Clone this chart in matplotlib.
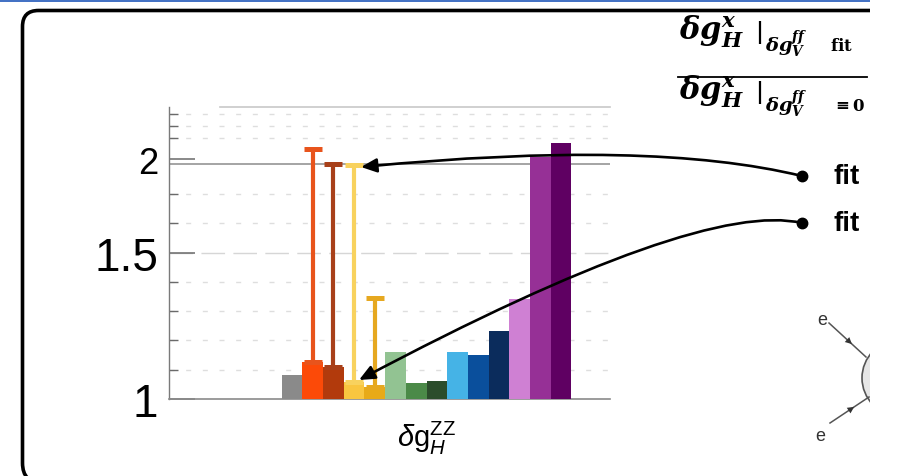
import numpy as np
import matplotlib
matplotlib.use("Agg")
import matplotlib.pyplot as plt
from matplotlib.patches import FancyArrowPatch, Circle, Rectangle, PathPatch
from matplotlib.path import Path
from matplotlib.ticker import FixedLocator

plt.rcParams['font.family'] = ['Liberation Sans', 'DejaVu Sans']
plt.rcParams['mathtext.fontset'] = 'custom'
plt.rcParams['mathtext.rm'] = 'Liberation Sans'
plt.rcParams['mathtext.it'] = 'Liberation Sans:italic'
plt.rcParams['mathtext.bf'] = 'Liberation Sans:bold'

# ---------------- data ----------------
category = r'$\delta\mathrm{g}_{H}^{\mathrm{ZZ}}$'
series = [f'fit {i+1}' for i in range(14)]
values = [1.083, 1.125, 1.108, 1.059, 1.040, 1.159, 1.054, 1.060,
          1.159, 1.150, 1.233, 1.341, 2.016, 2.152]
colors = ['#8a8a8a', '#fc4a08', '#b23a0c', '#f9c640', '#e8aa18', '#92c392',
          '#4b8a48', '#2b4d2b', '#45b3e6', '#0a4f9c', '#0b2c5c', '#cf80d3',
          '#963096', '#5f0062']
err_index = [1, 2, 3, 4]
err_upper = [0.972, 0.853, 0.890, 0.304]
err_colors = ['#e8541c', '#a8401a', '#f8d25e', '#e6a820']
ytick_vals = [1, 1.5, 2]
ytick_labels = ['1', '1.5', '2']
minor_vals = [1.1, 1.2, 1.3, 1.4, 1.6, 1.7, 2.2, 2.4, 2.6]
ref_line = 1.96

# nonlinear axis scale of the original plot (value -> relative height)
scale_vals = [0.0, 1.0, 1.7, 2.0, 2.2, 2.4, 2.6, 2.7, 4.0]
scale_pos = [-293.0, 0.0, 205.0, 240.0, 260.7, 273.3, 285.0, 292.5, 400.0]

def fwd(v):
    return np.interp(v, scale_vals, scale_pos)

def inv(h):
    return np.interp(h, scale_pos, scale_vals)

W, H = 902, 477
fig = plt.figure(figsize=(W / 100, H / 100), dpi=100)
fig.patch.set_facecolor('white')

ax = fig.add_axes([169 / W, 77 / H, 441 / W, 292.5 / H])
ax.set_yscale('function', functions=(fwd, inv))
ax.set_ylim(1.0, 2.7)
ax.set_xlim(-5.944, 15.36)

x = np.arange(len(values))
vals = np.array(values)
ax.bar(x, vals - 1.0, bottom=1.0, width=1.0, color=colors, edgecolor='none', zorder=3)
for i, e, c in zip(err_index, err_upper, err_colors):
    ax.errorbar(x[i], vals[i], yerr=[[0], [e]], fmt='none', ecolor=c,
                elinewidth=3.0, capsize=6.2, capthick=3.6, zorder=4)

# grid
for v in minor_vals:
    ax.axhline(v, color='#dedede', lw=1.0, ls=(0, (3.6, 8.4)), zorder=1)
ax.axhline(1.5, color='#d6d6d6', lw=1.0, ls=(0, (17, 6)), zorder=1)
ax.axhline(ref_line, color='#8c8c8c', lw=1.1, zorder=2)
ax.plot([(220 - 169) / 441, 1], [1, 1], transform=ax.transAxes, color='#c8c8c8',
        lw=1.2, clip_on=False)

for s in ['top', 'right']:
    ax.spines[s].set_visible(False)
ax.spines['left'].set_color('#7a7a7a')
ax.spines['bottom'].set_color('#8a8a8a')
ax.spines['left'].set_linewidth(1.0)
ax.spines['bottom'].set_linewidth(1.2)

ax.yaxis.set_major_locator(FixedLocator(ytick_vals))
ax.set_yticklabels(ytick_labels)
ax.yaxis.set_minor_locator(FixedLocator(minor_vals))
ax.tick_params(axis='y', which='major', direction='in', length=19, width=1.1,
               color='#6a6a6a', pad=8)
ax.tick_params(axis='y', which='minor', direction='in', length=6.5, width=1.0,
               color='#6a6a6a')
for lbl, fs in zip(ax.get_yticklabels(), [33, 33, 26]):
    lbl.set_fontsize(fs)
ax.set_xticks([6.5])
ax.set_xticklabels([category], fontsize=21)
ax.tick_params(axis='x', length=0, pad=14)
ax.patch.set_alpha(0)

# ---------------- overlay (slide decorations) ----------------
ov = fig.add_axes([0, 0, 1, 1], zorder=5)
ov.set_xlim(0, W)
ov.set_ylim(H, 0)
ov.axis('off')

ov.add_patch(Rectangle((0, 0), 870, 2.7, color='#4472c4', lw=0))
bverts = [(880, 11.5), (38.5, 11.5), (22.5, 11.5), (22.5, 27.5), (22.5, 464),
          (22.5, 484), (42.5, 484), (880, 484)]
bcodes = [Path.MOVETO, Path.LINETO, Path.CURVE3, Path.CURVE3, Path.LINETO,
          Path.CURVE3, Path.CURVE3, Path.LINETO]
ov.add_patch(PathPatch(Path(bverts, bcodes), fill=False, ec='black', lw=2.6))

# arrows
def curve(p0, c, p2, col='black'):
    path = Path([p0, c, p2], [Path.MOVETO, Path.CURVE3, Path.CURVE3])
    ov.add_patch(FancyArrowPatch(path=path, arrowstyle='-|>,head_length=0.47,head_width=0.21',
                                 mutation_scale=20, color=col, lw=1.9))
    ov.plot([p0[0]], [p0[1]], 'o', color=col, ms=7.5)

curve((802, 177), (650, 140), (361, 168))
curve((802, 224), (700, 200), (359, 381))

ov.text(833, 177, 'fit', fontsize=20, fontweight='bold', va='center', ha='left')
ov.text(833, 224, 'fit', fontsize=20, fontweight='bold', va='center', ha='left')

# formula (composed: main term, evaluation bar, subscript)
main = r'$\boldsymbol{\delta g}^{\boldsymbol{x}}_{\boldsymbol{H}}$'
subv = r'$\boldsymbol{\delta g}^{\boldsymbol{ff}}_{\boldsymbol{V}}$'
for yb, tail, tx in [(39, r'$\mathbf{fit}$', 830), (99, r'$\mathbf{\equiv 0}$', 832)]:
    ov.text(679, yb, main, fontsize=22, math_fontfamily='dejavuserif',
            ha='left', va='baseline')
    ov.plot([760, 760], [yb - 17, yb + 6], color='black', lw=1.6, solid_capstyle='butt')
    ov.text(765, yb + 13, subv, fontsize=14, math_fontfamily='dejavuserif',
            ha='left', va='baseline')
    ov.text(tx, yb + 12, tail, fontsize=12, math_fontfamily='dejavuserif',
            ha='left', va='baseline')
ov.plot([678, 867], [78, 78], color='black', lw=1.3)

# partial Feynman diagram
ov.add_patch(Circle((900, 379), 38, fc='#e6e6e6', ec='#555555', lw=1.2))
for p0, p1 in [((829, 324), (866, 358)), ((830, 424), (869, 398))]:
    ov.plot([p0[0], p1[0]], [p0[1], p1[1]], color='#555555', lw=1.1)
    mid = (p0[0] + 0.62 * (p1[0] - p0[0]), p0[1] + 0.62 * (p1[1] - p0[1]))
    ov.annotate('', xy=mid, xytext=p0,
                arrowprops=dict(arrowstyle='-|>,head_length=0.6,head_width=0.3',
                                color='#333333', lw=0.0, mutation_scale=8,
                                shrinkA=0, shrinkB=0))
ov.text(822, 321, 'e', fontsize=13, color='#333333', ha='center', va='center')
ov.text(820, 437, 'e', fontsize=13, color='#333333', ha='center', va='center')

# crop at slide edge
ov.add_patch(Rectangle((870, 0), 40, H, color='white', lw=0, zorder=10))

fig.savefig('out.png', dpi=100, facecolor='white')
